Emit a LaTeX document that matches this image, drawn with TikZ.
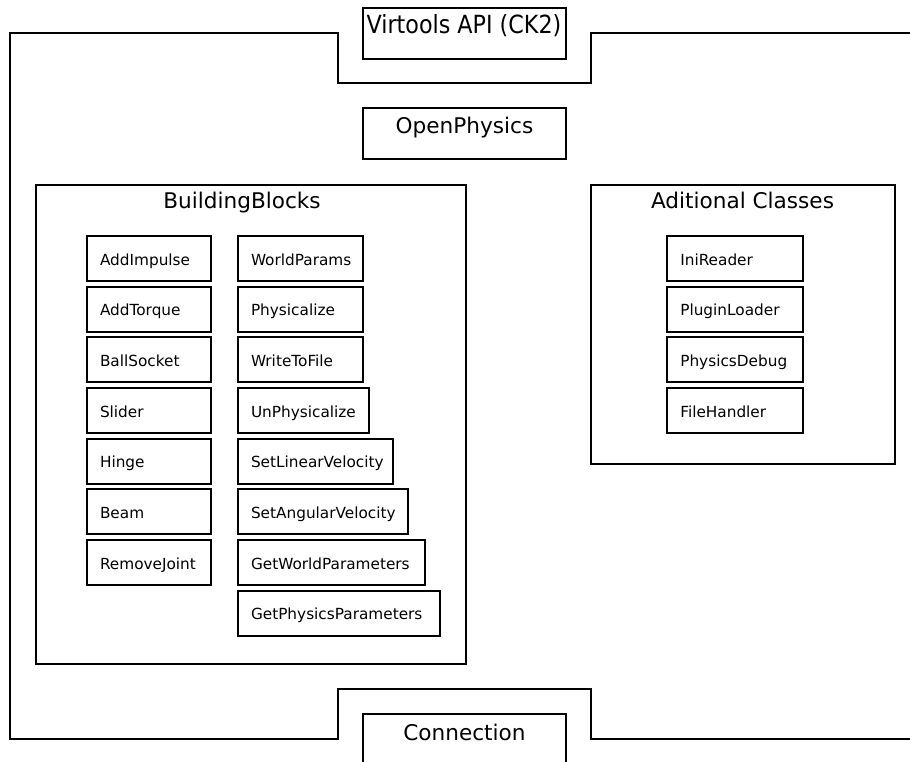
\documentclass[tikz,border=0pt]{standalone}
\usepackage{fontspec}
\setmainfont{DejaVu Sans}
\usepackage{graphicx}

\begin{document}
\begin{tikzpicture}[x=1pt, y=-1pt, line width=2pt,
  headbox/.style={draw, minimum width=203pt, minimum height=51pt, inner sep=0pt,
    text height=8pt, text depth=8pt, font=\fontsize{21.6}{26}\selectfont},
  groupbox/.style={draw, anchor=north west, inner sep=0pt},
  grouptitle/.style={anchor=base, font=\fontsize{21.6}{26}\selectfont},
  blockbox/.style={draw, anchor=north west, minimum height=45pt, inner xsep=13.3pt,
    inner ysep=0pt, text width=#1, align=left, text height=13.6pt, text depth=0pt,
    font=\fontsize{15.3}{18}\selectfont}]

% Page: 910 x 762, y grows downwards
\useasboundingbox (0,0) rectangle (910,762);

% Outer frame with the two notches
\draw (910,33.5) -- (591,33.5) -- (591,83.3) -- (338,83.3) -- (338,33.5) -- (10.4,33.5)
  -- (10.4,739.3) -- (338,739.3) -- (338,689) -- (591,689) -- (591,739.3) -- (910,739.3);

% Top, middle and bottom boxes
\node[headbox] (virtools) at (464,33.5)
  {\scalebox{0.89}[1]{\fontsize{25}{30}\selectfont Virtools API (CK2)}};
\node[headbox] (openphys) at (464.5,133.5) {OpenPhysics};
\node[headbox, minimum height=52pt] (connection) at (464.5,740) {Connection};

% BuildingBlocks group
\node[groupbox, minimum width=430pt, minimum height=479pt] (bblocks) at (35,184) {};
\node[grouptitle] (bbtitle) at (242,208.5) {BuildingBlocks};

\foreach \lbl [count=\i from 0] in {AddImpulse, AddTorque, BallSocket, Slider, Hinge, Beam, RemoveJoint}
  \node[blockbox=97.7pt] (bbl\i) at (85.7,{235+50.67*\i}) {\lbl};

\foreach \lbl/\w [count=\i from 0] in {WorldParams/98.4, Physicalize/98.4, WriteToFile/98.4,
    UnPhysicalize/104.4, SetLinearVelocity/128.4, SetAngularVelocity/143.4,
    GetWorldParameters/161, GetPhysicsParameters/176}
  \node[blockbox=\w pt] (bbr\i) at (236.7,{235+50.67*\i}) {\lbl};

% Aditional Classes group
\node[groupbox, minimum width=304pt, minimum height=279pt] (addcls) at (590,184) {};
\node[grouptitle] (actitle) at (742.5,208.5) {Aditional Classes};

\foreach \lbl [count=\i from 0] in {IniReader, PluginLoader, PhysicsDebug, FileHandler}
  \node[blockbox=109.4pt] (ac\i) at (666,{235+50.67*\i}) {\lbl};

\end{tikzpicture}
\end{document}
